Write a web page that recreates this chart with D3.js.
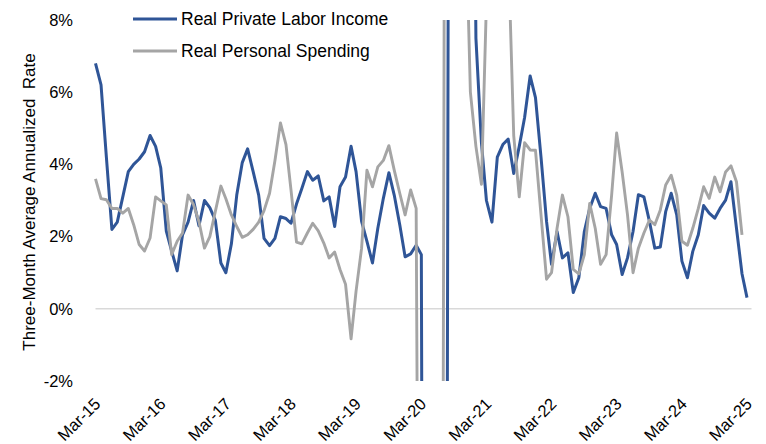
<!DOCTYPE html>
<html>
<head>
<meta charset="utf-8">
<script src="https://cdn.jsdelivr.net/npm/d3@7"></script>
<style>
  body { margin: 0; background: #fff; }
  text { font-family: "Liberation Sans", Arial, sans-serif; fill: #000; }
</style>
</head>
<body>
<div id="chart"></div>
<script>
// Monthly observations, Mar-15 .. Mar-25
const months = d3.timeMonths(new Date(2015, 2, 1), new Date(2025, 3, 1));

// Real Private Labor Income (3m avg annualized, %)
const laborIncome = [
  6.8, 6.2, 4.2, 2.2, 2.4, 3.1, 3.8, 4.0, 4.15, 4.35, 4.8, 4.5,
  3.9, 2.15, 1.6, 1.05, 2.05, 2.4, 3.0, 2.3, 3.0, 2.8, 2.45, 1.27,
  1.0, 1.8, 3.15, 4.05, 4.43, 3.8, 3.15, 1.95, 1.75, 1.95, 2.55, 2.5,
  2.37, 2.9, 3.33, 3.8, 3.56, 3.68, 2.99, 3.1, 2.28, 3.38, 3.65, 4.5,
  3.8, 2.42, 1.87, 1.27, 2.23, 3.06, 3.77, 3.15, 2.33, 1.44, 1.52, 1.76,
  1.5, -50, -30, -40, -60, 15, 40, 30, 20, 25, 7.5, 4.6,
  3.0, 2.4, 4.2, 4.55, 4.7, 3.75, 4.5, 5.3, 6.45, 5.85, 4.2, 2.42,
  1.23, 2.14, 1.41, 1.55, 0.45, 0.86, 2.14, 2.78, 3.2, 2.83, 2.78, 2.05,
  1.78, 0.95, 1.41, 2.14, 3.16, 3.1, 2.42, 1.68, 1.71, 2.69, 3.2, 2.6,
  1.32, 0.86, 1.59, 2.05, 2.86, 2.65, 2.51, 2.78, 3.01, 3.52, 2.23, 0.97,
  0.31
];

// Real Personal Spending (3m avg annualized, %), last month not yet out
const personalSpending = [
  3.6, 3.05, 3.02, 2.78, 2.78, 2.65, 2.78, 2.33, 1.78, 1.6, 1.96, 3.1,
  2.99, 2.88, 1.5, 1.87, 2.1, 3.15, 2.88, 2.42, 1.68, 2.0, 2.7, 3.4,
  3.05, 2.6, 2.28, 1.98, 2.05, 2.2, 2.4, 2.72, 3.2, 4.1, 5.15, 4.55,
  3.3, 1.85, 1.8, 2.1, 2.37, 2.16, 1.82, 1.41, 1.57, 1.09, 0.68, -0.83,
  0.49, 1.68, 3.84, 3.38, 3.93, 4.11, 4.52, 3.84, 3.2, 2.6, 3.29, 2.78,
  -25, -60, -30, -15, -4, 60, 40, 25, 11.7, 6.0, 4.5, 3.45,
  8.5, 20, 25, 15, 10, 4.8, 3.1, 4.6, 4.4, 4.39, 2.6, 0.82,
  1.0, 2.23, 3.15, 2.55, 1.09, 0.97, 1.5, 2.92, 2.23, 1.23, 1.5, 3.15,
  4.87, 3.79, 2.6, 1.0, 1.68, 2.1, 2.46, 2.33, 2.74, 3.43, 3.7, 3.15,
  1.87, 1.76, 2.23, 2.78, 3.38, 3.06, 3.65, 3.24, 3.79, 3.96, 3.52, 2.05,
  null
];

const tickLabels = ["Mar-15", "Mar-16", "Mar-17", "Mar-18", "Mar-19", "Mar-20",
                    "Mar-21", "Mar-22", "Mar-23", "Mar-24", "Mar-25"];
const yTicks = [-2, 0, 2, 4, 6, 8];

const width = 766, height = 444;
const plot = {left: 95.5, right: 747, top: 20, bottom: 381};

const svg = d3.select("#chart").append("svg")
    .attr("width", width)
    .attr("height", height);

const x = d3.scaleTime()
    .domain([months[0], months[months.length - 1]])
    .range([plot.left, plot.right]);

const y = d3.scaleLinear()
    .domain([-2, 8])
    .range([plot.bottom, plot.top]);

// clip region = plot area
svg.append("defs").append("clipPath")
    .attr("id", "clip")
  .append("rect")
    .attr("x", 0)
    .attr("y", plot.top)
    .attr("width", width)
    .attr("height", plot.bottom - plot.top);

// zero line
svg.append("line")
    .attr("x1", plot.left)
    .attr("x2", 751.5)
    .attr("y1", y(0))
    .attr("y2", y(0))
    .style("stroke", "#d9d9d9")
    .style("stroke-width", 1.5);

// Y axis labels
svg.append("g")
    .attr("transform", "translate(78,0)")
    .call(d3.axisLeft(y).tickValues(yTicks).tickSize(0).tickPadding(5).tickFormat(d => d + "%"))
    .call(g => g.select(".domain").remove())
    .selectAll("text")
    .style("font-size", "16.5px");

// X axis labels, rotated
const tickDates = months.filter((d, i) => i % 12 === 0);
svg.append("g")
    .attr("transform", "translate(0,405)")
    .call(d3.axisBottom(x).tickValues(tickDates).tickSize(0).tickFormat((d, i) => tickLabels[i]))
    .call(g => g.select(".domain").remove())
    .selectAll("text")
    .attr("x", 0)
    .attr("y", 0)
    .attr("dy", 0)
    .attr("text-anchor", "end")
    .attr("transform", "translate(5.5,0) rotate(-45)")
    .style("font-size", "16.5px");

// Y axis title
svg.append("text")
    .attr("transform", "translate(35,202) rotate(-90)")
    .attr("text-anchor", "middle")
    .style("font-size", "17px")
    .style("white-space", "pre")
    .text("Three-Month Average Annualized  Rate");

// Lines
const line = d3.line()
    .defined(d => d.v != null)
    .x(d => x(d.date))
    .y(d => y(d.v));

const series = [
  {name: "Real Private Labor Income", values: laborIncome, color: "#2f5597", width: 3},
  {name: "Real Personal Spending", values: personalSpending, color: "#a5a5a5", width: 2.9}
];

const lines = svg.append("g").attr("clip-path", "url(#clip)");
series.forEach(s => {
  lines.append("path")
      .datum(months.map((d, i) => ({date: d, v: s.values[i]})))
      .attr("d", line)
      .style("fill", "none")
      .style("stroke", s.color)
      .style("stroke-width", s.width)
      .style("stroke-linejoin", "round");
});

// Legend
const legend = svg.selectAll(".legend")
    .data(series)
  .enter().append("g")
    .attr("class", "legend")
    .attr("transform", (d, i) => "translate(133," + (19 + i * 32) + ")");

legend.append("line")
    .attr("x1", 0)
    .attr("x2", 44)
    .style("stroke", d => d.color)
    .style("stroke-width", 3);

legend.append("text")
    .attr("x", 48)
    .attr("dy", "0.35em")
    .style("font-size", "17.5px")
    .text(d => d.name);
</script>
</body>
</html>
